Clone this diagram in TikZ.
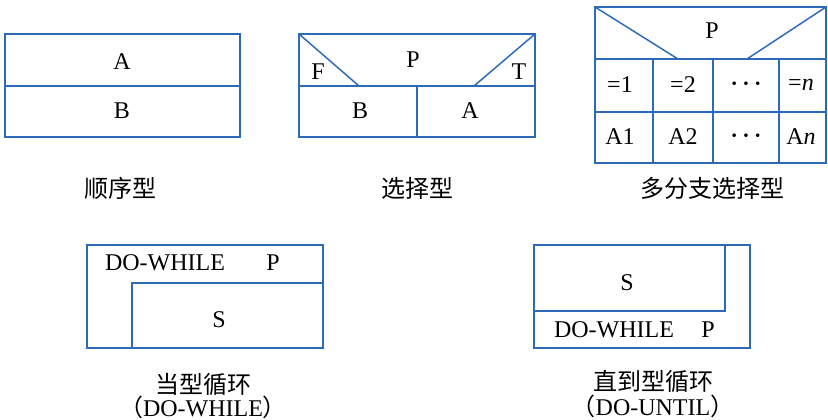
\documentclass[tikz,border=0pt]{standalone}
\usepackage{fontspec}
\setmainfont{Liberation Serif}
\newfontfamily\cjk{Noto Sans CJK SC}
\definecolor{nsblue}{RGB}{45,105,185}
\newcommand{\nsdots}{\mbox{\boldmath$\cdots$}}

\begin{document}
\tikzset{every picture/.style={line width=0.75pt}}
\tikzset{
  nsline/.style={draw=nsblue,line width=1.1pt},
  txt/.style={inner sep=0.75pt,font=\fontsize{18}{21}\selectfont},
  captxt/.style={inner sep=0.75pt,font=\fontsize{18}{21}\selectfont}
}

\begin{tikzpicture}[x=0.75pt,y=0.75pt,yscale=-1,xscale=1]
\path[use as bounding box] (0,0) rectangle (828,420);

%Shape: Rectangle [sequence]
\draw [nsline] (5,34) rectangle (240,137) ;
\draw [nsline] (5,86) -- (240,86) ;

%Shape: Rectangle [selection]
\draw [nsline] (299,34) rectangle (535,137) ;
\draw [nsline] (299,86) -- (535,86) ;
\draw [nsline] (417,86) -- (417,137) ;
\draw [nsline] (299,34) -- (359,86) ;
\draw [nsline] (535,34) -- (474,86) ;

%Shape: Rectangle [multi-branch]
\draw [nsline] (595,7) rectangle (826,163) ;
\draw [nsline] (595,59) -- (826,59) ;
\draw [nsline] (595,112) -- (826,112) ;
\foreach \cx in {653,713,779}
  \draw [nsline] (\cx,59) -- (\cx,163) ;
\draw [nsline] (595,7) -- (678,59) ;
\draw [nsline] (826,7) -- (747,59) ;

%Shape: Rectangle [do-while]
\draw [nsline] (87,245) rectangle (323,348) ;
\draw [nsline] (323,283) -- (132,283) -- (132,348) ;

%Shape: Rectangle [do-until]
\draw [nsline] (534,245) rectangle (750,348) ;
\draw [nsline] (534,311) -- (725,311) -- (725,245) ;

% Text Node
\node [txt] (seqA) at (122,62) {A};
\node [txt] (seqB) at (122,111) {B};
% Text Node
\node [txt] (selP) at (413,60) {P};
\node [txt] (selF) at (318,72) {F};
\node [txt] (selT) at (519,72) {T};
\node [txt] (selB) at (360,111) {B};
\node [txt] (selA) at (470,111) {A};
% Text Node
\node [txt] (mulP) at (712,31) {P};
\node [txt] (mulc1) at (620,85) {=1};
\node [txt] (mulc2) at (683,85) {=2};
\node [txt] (mulc3) at (746,84) {\nsdots};
\node [txt] (mulcn) at (801,85) {=\textit{n}};
\node [txt] (mula1) at (620,137) {A1};
\node [txt] (mula2) at (683,137) {A2};
\node [txt] (mula3) at (746,136) {\nsdots};
\node [txt] (mulan) at (801,137) {A\textit{n}};
% Text Node
\node [txt] (dwK) at (165,263) {DO-WHILE};
\node [txt] (dwP) at (273,263) {P};
\node [txt] (dwS) at (219,320) {S};
% Text Node
\node [txt] (duS) at (627,283) {S};
\node [txt] (duK) at (614,330) {DO-WHILE};
\node [txt] (duP) at (708,330) {P};

% Captions
\node [captxt] (capSeq) at (120,188) {\cjk 顺序型};
\node [captxt] (capSel) at (417,188) {\cjk 选择型};
\node [captxt] (capMul) at (712,188) {\cjk 多分支选择型};
\node [captxt] (capDW) at (203,384) {\cjk 当型循环};
\node [captxt] (capDW2) at (203,407) {{\cjk （}DO-WHILE{\cjk ）}};
\node [captxt] (capDU) at (653,381) {\cjk 直到型循环};
\node [captxt] (capDU2) at (653,406) {{\cjk （}DO-UNTIL{\cjk ）}};

\end{tikzpicture}
\end{document}
